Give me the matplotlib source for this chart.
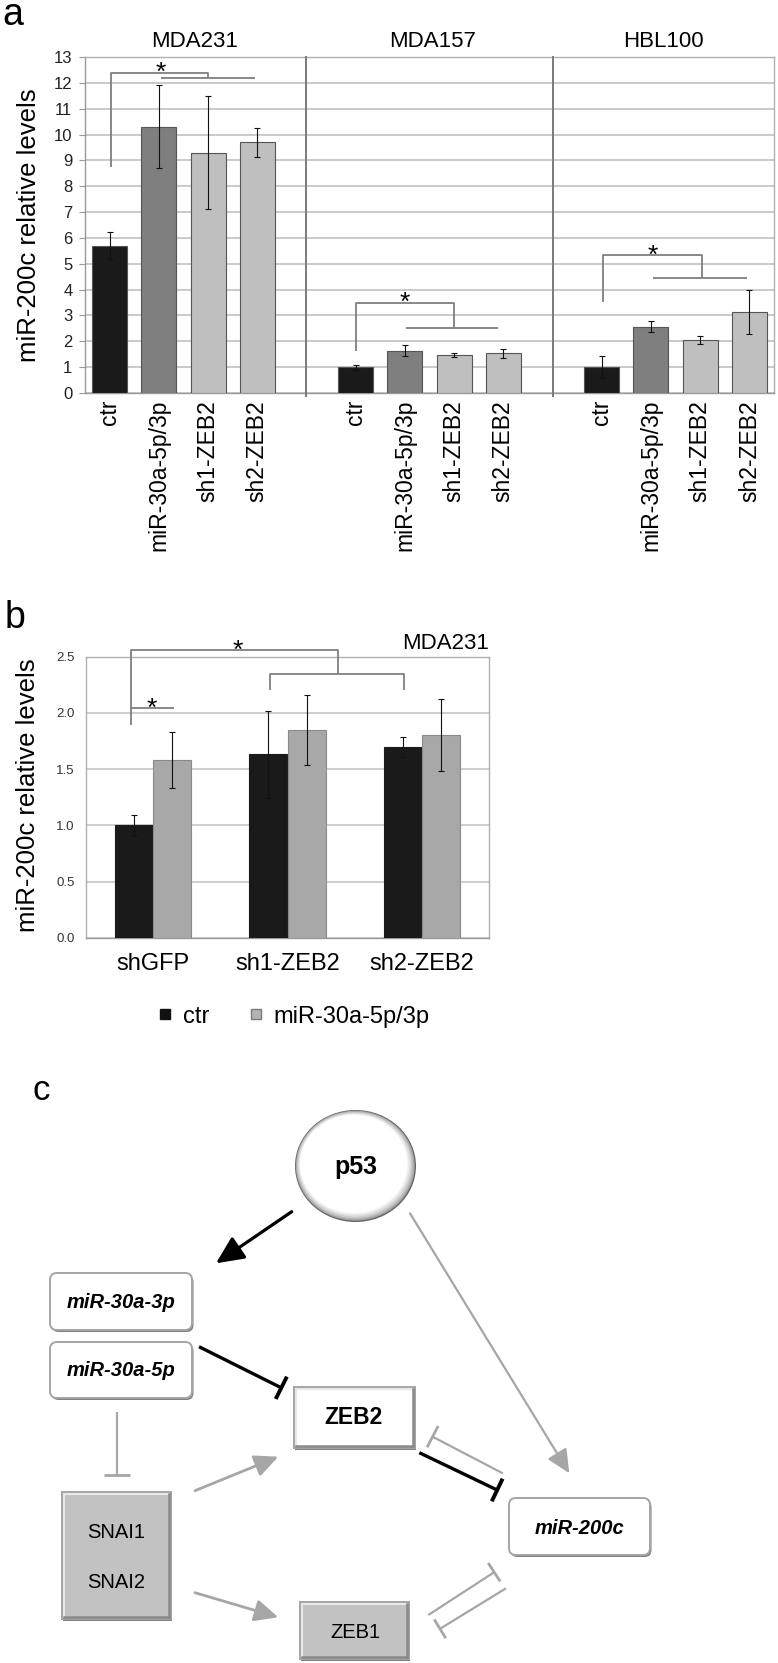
import numpy as np
import matplotlib
matplotlib.use("Agg")
import matplotlib.pyplot as plt
from matplotlib.patches import FancyBboxPatch, Ellipse
from matplotlib.lines import Line2D

plt.rcParams['font.family'] = ['Liberation Sans', 'DejaVu Sans']

# ---------------- data: panel a ----------------
groups_a = ['MDA231', 'MDA157', 'HBL100']
conds_a = ['ctr', 'miR-30a-5p/3p', 'sh1-ZEB2', 'sh2-ZEB2']
vals_mda231 = [5.7, 10.3, 9.3, 9.7]
errs_mda231 = [0.53, 1.6, 2.2, 0.55]
vals_mda157 = [1.0, 1.64, 1.47, 1.53]
errs_mda157 = [0.10, 0.22, 0.08, 0.18]
vals_hbl100 = [1.0, 2.56, 2.06, 3.15]
errs_hbl100 = [0.43, 0.21, 0.15, 0.85]
colors_a = ['#1a1a1a', '#7f7f7f', '#bfbfbf', '#bfbfbf']
yticks_a = list(range(0, 14))

# ---------------- data: panel b ----------------
cats_b = ['shGFP', 'sh1-ZEB2', 'sh2-ZEB2']
series_b = ['ctr', 'miR-30a-5p/3p']
vals_b_ctr = [1.0, 1.63, 1.70]
errs_b_ctr = [0.095, 0.39, 0.09]
vals_b_mir = [1.58, 1.85, 1.80]
errs_b_mir = [0.25, 0.31, 0.32]
yticks_b = [0.0, 0.5, 1.0, 1.5, 2.0, 2.5]

# ---------------- layout helpers ----------------
W, H = 778, 1663
fig = plt.figure(figsize=(W / 100, H / 100), dpi=100)


def rect(l, t, r, b):
    return [l / W, 1 - b / H, (r - l) / W, (b - t) / H]


def star(ax, x, y, fs=19):
    ax.annotate('*', (x, y), xytext=(0, -0.57 * fs), textcoords='offset points',
                ha='center', va='baseline', fontsize=fs, color='black',
                annotation_clip=False)


BR = dict(color='#7f7f7f', lw=1.3, clip_on=False, zorder=5, solid_capstyle='butt')

# ================= panel a =================
axA = fig.add_axes(rect(85, 57, 774, 393))
pos_a = []
vals_a = []
errs_a = []
cols_a = []
for gi, (v, e) in enumerate([(vals_mda231, errs_mda231), (vals_mda157, errs_mda157),
                             (vals_hbl100, errs_hbl100)]):
    for ci in range(4):
        pos_a.append(gi * 5 + ci)
        vals_a.append(v[ci])
        errs_a.append(e[ci])
        cols_a.append(colors_a[ci])
axA.bar(pos_a, vals_a, width=0.71, color=cols_a, edgecolor='#555555', linewidth=0.8,
        yerr=errs_a, error_kw=dict(ecolor='#111111', elinewidth=0.8, capsize=2.2, capthick=0.8),
        zorder=3)
axA.set_xlim(-0.5, 13.5)
axA.set_ylim(0, 13)
axA.set_yticks(yticks_a)
axA.set_axisbelow(True)
axA.yaxis.grid(True, color='#c6c6c6', lw=1.3)
axA.set_xticks(pos_a)
axA.set_xticklabels(conds_a * 3, rotation=90, fontsize=16.5, va='top')
axA.tick_params(axis='x', length=0, pad=5)
axA.tick_params(axis='y', length=4, color='#999999', labelsize=12, pad=5, labelcolor='#222222')
for s in axA.spines.values():
    s.set_color('#b0b0b0')
    s.set_linewidth(1.0)
axA.spines['left'].set_color('#999999')
axA.spines['bottom'].set_color('#999999')
for sx in (4, 9):
    axA.plot([sx, sx], [-0.1, 13], color='#7a7a7a', lw=1.4, clip_on=False, zorder=4)
axA.set_ylabel('miR-200c relative levels', fontsize=18.5, va='center')
axA.yaxis.set_label_coords(-0.081, 0.5)
title_x = [1.73, 6.57, 11.26]
for tx, g in zip(title_x, groups_a):
    axA.text(tx, 13.6, g, ha='center', va='center', fontsize=16)

# significance brackets panel a
axA.plot([0.02, 0.02, 2.0, 2.0], [8.75, 12.4, 12.4, 12.2], **BR)
axA.plot([1.04, 2.95], [12.17, 12.17], **BR)
star(axA, 1.04, 12.69)
axA.plot([5.0, 5.0, 7.0, 7.0], [1.64, 3.47, 3.47, 2.52], **BR)
axA.plot([6.02, 7.9], [2.52, 2.52], **BR)
star(axA, 5.99, 3.78)
axA.plot([10.02, 10.02, 12.03, 12.03], [3.52, 5.34, 5.34, 4.44], **BR)
axA.plot([11.05, 12.95], [4.44, 4.44], **BR)
star(axA, 11.03, 5.6)

# ================= panel b =================
axB = fig.add_axes(rect(86, 656.7, 489, 937.7))
xb = np.arange(len(cats_b))
bw = 0.285
axB.bar(xb - bw / 2, vals_b_ctr, width=bw, color='#1a1a1a', edgecolor='#1a1a1a', linewidth=0.8,
        yerr=errs_b_ctr, error_kw=dict(ecolor='#111111', elinewidth=0.8, capsize=2.2, capthick=0.8),
        zorder=3, label=series_b[0])
axB.bar(xb + bw / 2, vals_b_mir, width=bw, color='#a8a8a8', edgecolor='#8a8a8a', linewidth=0.8,
        yerr=errs_b_mir, error_kw=dict(ecolor='#111111', elinewidth=0.8, capsize=2.2, capthick=0.8),
        zorder=3, label=series_b[1])
axB.set_xlim(-0.5, 2.5)
axB.set_ylim(0, 2.5)
axB.set_yticks(yticks_b)
axB.set_yticklabels(['%.1f' % t for t in yticks_b])
axB.set_axisbelow(True)
axB.yaxis.grid(True, color='#c6c6c6', lw=1.2)
axB.set_xticks(xb)
axB.set_xticklabels(cats_b, fontsize=17)
axB.tick_params(axis='x', length=0, pad=11)
axB.tick_params(axis='y', length=0, labelsize=9.5, pad=8, labelcolor='#333333')
for s in axB.spines.values():
    s.set_color('#b0b0b0')
    s.set_linewidth(1.0)
axB.spines['bottom'].set_color('#999999')
axB.set_ylabel('miR-200c relative levels', fontsize=18.5, va='center')
axB.yaxis.set_label_coords(-0.144, 0.506)
axB.text(2.5, 2.62, 'MDA231', ha='right', va='center', fontsize=16)

axB.plot([-0.165, -0.165, 1.374, 1.374], [1.89, 2.56, 2.56, 2.345], **BR)
axB.plot([0.87, 0.87, 1.87, 1.87], [2.204, 2.345, 2.345, 2.204], **BR)
axB.plot([-0.165, 0.153], [2.04, 2.04], **BR)
star(axB, 0.632, 2.62)
star(axB, -0.007, 2.11)

handles = [Line2D([], [], marker='s', ls='', color='#111111', mec='#111111', ms=7),
           Line2D([], [], marker='s', ls='', color='#b4b4b4', mec='#7a7a7a', ms=7)]
fig.legend(handles, series_b, loc='center left', bbox_to_anchor=(158 / W, 1 - 1016.7 / H),
           ncol=2, frameon=False, fontsize=17, handlelength=0.6, handletextpad=0.47,
           columnspacing=1.65, borderpad=0, borderaxespad=0)

# ================= panel c (diagram) =================
axC = fig.add_axes(rect(0, 1075, 778, 1663))
axC.set_xlim(0, W)
axC.set_ylim(1663, 1075)
axC.axis('off')

# node layout: (x0, y0, x1, y1) in pixels
node_names = ['miR-30a-3p', 'miR-30a-5p', 'ZEB2', 'SNAI', 'ZEB1', 'miR-200c']
node_boxes = [(50, 1273, 192, 1330), (50, 1342, 192, 1398), (294, 1387, 415, 1448),
              (62, 1492, 171, 1619), (300, 1602, 409, 1659), (509, 1498, 650, 1555)]
node_fill = ['white', 'white', 'white', '#c2c2c2', '#c2c2c2', 'white']
node_round = [True, True, False, False, False, True]


def draw_box(ax, b, fill, rounded):
    x0, y0, x1, y1 = b
    style = 'round,pad=0,rounding_size=7' if rounded else 'square,pad=0'
    sh = FancyBboxPatch((x0 + 1.5, y0 + 2), x1 - x0, y1 - y0, boxstyle=style,
                        fc='#808080', ec='none', zorder=2)
    ax.add_patch(sh)
    p = FancyBboxPatch((x0, y0), x1 - x0, y1 - y0, boxstyle=style,
                       fc=fill, ec='#a5a5a5', lw=1.4, zorder=3)
    ax.add_patch(p)
    if not rounded:
        ax.plot([x0 + 2, x1 - 2], [y0 + 2, y0 + 2], color='#e8e8e8', lw=1.5, zorder=4)
        ax.plot([x0 + 2, x0 + 2], [y0 + 2, y1 - 2], color='#e8e8e8', lw=1.5, zorder=4)
        ax.plot([x0 + 2, x1 - 2], [y1 - 2, y1 - 2], color='#8a8a8a', lw=1.8, zorder=4)
        ax.plot([x1 - 2, x1 - 2], [y0 + 2, y1 - 2], color='#8a8a8a', lw=1.8, zorder=4)


for b, f, r in zip(node_boxes, node_fill, node_round):
    draw_box(axC, b, f, r)

axC.text(121, 1303, 'miR-30a-3p', ha='center', va='center', fontsize=14.5,
         fontweight='bold', style='italic')
axC.text(121, 1370, 'miR-30a-5p', ha='center', va='center', fontsize=14.5,
         fontweight='bold', style='italic')
axC.text(354, 1418, 'ZEB2', ha='center', va='center', fontsize=16.5, fontweight='bold')
axC.text(116, 1532, 'SNAI1', ha='center', va='center', fontsize=14.5)
axC.text(116, 1582, 'SNAI2', ha='center', va='center', fontsize=14.5)
axC.text(355, 1632, 'ZEB1', ha='center', va='center', fontsize=14.5)
axC.text(580, 1528, 'miR-200c', ha='center', va='center', fontsize=14.5,
         fontweight='bold', style='italic')

# p53 circle with thin shaded rim
cx, cy, rw, rh = 355.5, 1166, 121, 112
n = 8
for i in range(n):
    g = 0.40 + 0.60 * (i / (n - 1)) ** 0.5
    d = i * 1.0
    e = Ellipse((cx - d * 0.25, cy - d * 0.3), rw - 2 * d, rh - 2 * d,
                fc=(g, g, g), ec='none', zorder=3 + i * 0.01)
    axC.add_patch(e)
axC.add_patch(Ellipse((cx - 2, cy - 3), rw - 20, rh - 20, fc='white', ec='none', zorder=3.5))
axC.text(356, 1167, 'p53', ha='center', va='center', fontsize=18, fontweight='bold', zorder=4)

BLACK = '#000000'
GREY = '#a6a6a6'

# activation arrows: (start, tip, colour, lw, scale)
arrows = [((291.7, 1211.7), (216, 1263.3), BLACK, 2.3, 28),
          ((410, 1213.3), (569.3, 1473.3), GREY, 1.6, 24),
          ((195, 1490.7), (278.3, 1456.7), GREY, 2.0, 24),
          ((195, 1592.7), (278.3, 1617.3), GREY, 2.0, 24)]
for s, t, c, lw, ms in arrows:
    axC.annotate('', xy=t, xytext=s,
                 arrowprops=dict(arrowstyle='-|>,head_length=0.6,head_width=0.28',
                                 color=c, lw=lw, shrinkA=0, shrinkB=0,
                                 mutation_scale=ms), zorder=5)

# inhibition edges: (start, end, colour, lw, bar length)
inhib = [((199, 1346.7), (281.3, 1387.8), BLACK, 2.4, 25),
         ((117.3, 1411.7), (117.3, 1475), GREY, 1.6, 26),
         ((419.3, 1452.7), (497.2, 1490), BLACK, 2.4, 25),
         ((502.7, 1473.3), (432.6, 1436.7), GREY, 1.6, 24),
         ((428.3, 1615), (494.2, 1572.2), GREY, 1.6, 22),
         ((506, 1588.3), (440, 1628.8), GREY, 1.6, 22)]
for s, t, c, lw, L in inhib:
    s = np.array(s)
    t = np.array(t)
    d = (t - s) / np.linalg.norm(t - s)
    p = np.array([-d[1], d[0]])
    axC.plot([s[0], t[0]], [s[1], t[1]], color=c, lw=lw, zorder=5, solid_capstyle='butt')
    b0 = t + p * L / 2
    b1 = t - p * L / 2
    axC.plot([b0[0], b1[0]], [b0[1], b1[1]], color=c, lw=lw + 0.4, zorder=5,
             solid_capstyle='butt')

# panel letters
fig.text(2 / W, 1 - 25 / H, 'a', fontsize=27, va='baseline', ha='left')
fig.text(5 / W, 1 - 628 / H, 'b', fontsize=27, va='baseline', ha='left')
fig.text(32 / W, 1 - 1100 / H, 'c', fontsize=25, va='baseline', ha='left')

fig.savefig('out.png', dpi=100)
